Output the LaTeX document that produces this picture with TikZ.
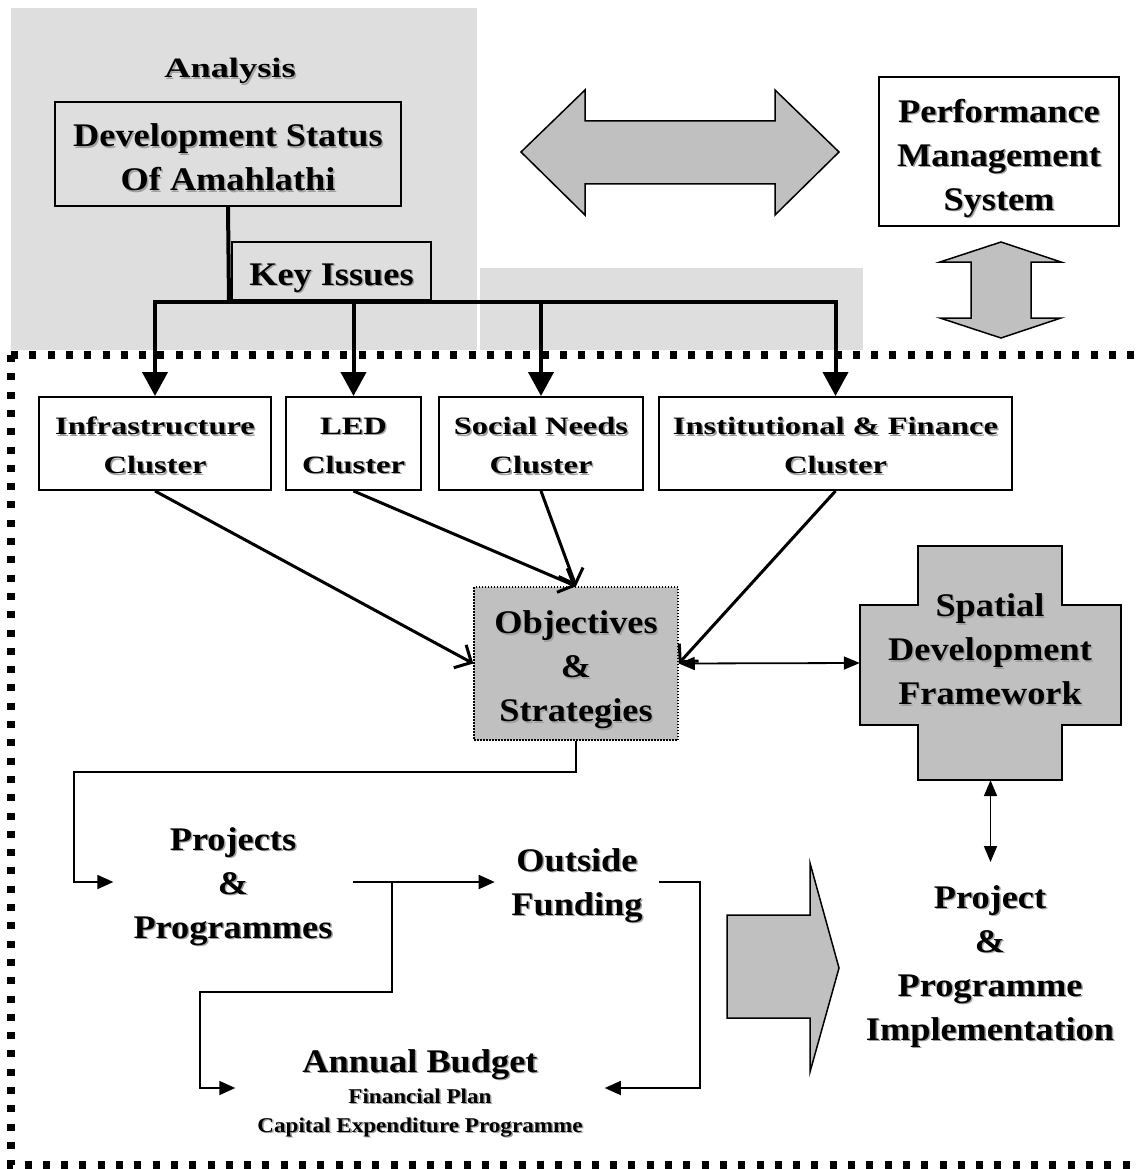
\documentclass[tikz,border=0pt]{standalone}
\usepackage{fontspec}
\setmainfont{Liberation Serif}
\newfontfamily\fbig{Liberation Serif}[FakeStretch=1.1]
\newfontfamily\fwide{Liberation Serif}[FakeStretch=1.3]
\usetikzlibrary{arrows.meta}
\definecolor{zone}{HTML}{DEDEDE}
\definecolor{silver}{HTML}{C0C0C0}
\definecolor{shadowc}{HTML}{A0A0A0}
% text with a soft drop shadow
\newcommand\shd[1]{\leavevmode\rlap{\kern1.5pt\raisebox{-1.5pt}{\textcolor{shadowc}{#1}}}#1}
\tikzset{
  bigtext/.style={font=\fbig\bfseries\fontsize{33}{44}\selectfont, align=center, inner sep=0pt},
  clustertext/.style={font=\fwide\bfseries\fontsize{25}{39}\selectfont, align=center, inner sep=0pt},
  boxframe/.style={draw, line width=2pt, inner sep=0pt},
  busline/.style={line width=4pt},
  droparrow/.style={line width=4pt, -{Triangle[length=24pt,width=25pt]}},
  feed/.style={line width=3pt, -{Straight Barb[length=13pt,width=26pt]}},
  flowlink/.style={line width=1.8pt, -{Triangle[length=16pt,width=14pt]}},
  twoway/.style={line width=1.8pt, {Triangle[length=16pt,width=13pt]}-{Triangle[length=16pt,width=13pt]}},
  blockarrow/.style={fill=silver, draw, line width=1.5pt, line join=miter},
  dotborder/.style={line width=7.5pt, dash pattern=on 7pt off 11.3pt},
}
\begin{document}
\begin{tikzpicture}[x=1pt,y=-1pt]
\fill[white] (0,0) rectangle (1137,1169);
\useasboundingbox (0,0) rectangle (1137,1169);

% shaded analysis zones
\fill[zone] (11,8) rectangle (477,350);
\fill[zone] (480,268) rectangle (863,350);

% analysis block
\node[bigtext, font=\fwide\bfseries\fontsize{28}{36}\selectfont] (analysis) at (230,72) {\shd{Analysis}};
\node[boxframe, minimum width=346pt, minimum height=104pt] (dev) at (228,154) {};
\node[bigtext, yshift=-4pt] (devtext) at (dev.center) {\shd{Development Status}\\\shd{Of Amahlathi}};
\node[boxframe, minimum width=199pt, minimum height=58pt] (keys) at (331.5,271) {};
\node[bigtext, font=\fbig\bfseries\fontsize{33}{40}\selectfont, yshift=-8pt] (keystext) at (keys.center) {\shd{Key Issues}};

% performance management
\node[boxframe, fill=white, minimum width=240pt, minimum height=149pt] (pms) at (999,151.5) {};
\node[bigtext, yshift=-7.5pt] (pmstext) at (pms.center) {\shd{Performance}\\\shd{Management}\\\shd{System}};
\draw[blockarrow] (521,152) -- (585,90) -- (585,121) -- (775,121) -- (775,90) -- (839,152)
  -- (775,215) -- (775,184) -- (585,184) -- (585,215) -- cycle;
\draw[blockarrow] (1001,242) -- (1061,262) -- (1031,262) -- (1031,318) -- (1061,318) -- (1001,338)
  -- (940,318) -- (971,318) -- (971,262) -- (940,262) -- cycle;

% dotted frame of the planning area
\draw[dotborder] (11,355) -- (1145,355);
\draw[dotborder] (11,355) -- (11,1165) -- (1145,1165);

% clusters
\node[boxframe, fill=white, minimum width=232pt, minimum height=93pt] (infra) at (155,443.5) {};
\node[boxframe, fill=white, minimum width=135pt, minimum height=93pt] (led) at (353.5,443.5) {};
\node[boxframe, fill=white, minimum width=204pt, minimum height=93pt] (social) at (541,443.5) {};
\node[boxframe, fill=white, minimum width=353pt, minimum height=93pt] (inst) at (835.5,443.5) {};
\node[clustertext, yshift=-3pt] (infratext) at (infra.center) {\shd{Infrastructure}\\\shd{Cluster}};
\node[clustertext, yshift=-3pt] (ledtext) at (led.center) {\shd{LED}\\\shd{Cluster}};
\node[clustertext, yshift=-3pt] (socialtext) at (social.center) {\shd{Social Needs}\\\shd{Cluster}};
\node[clustertext, yshift=-3pt] (insttext) at (inst.center) {\shd{Institutional \& Finance}\\\shd{Cluster}};

% key issues feeding the clusters
\coordinate (busy) at (229,302);
\draw[busline] (dev.south) -- (busy);
\draw[busline, line cap=rect] (infra.north |- busy) -- (inst.north |- busy);
\draw[droparrow] (infra.north |- busy) -- (infra.north);
\draw[droparrow] (led.north |- busy) -- (led.north);
\draw[droparrow] (social.north |- busy) -- (social.north);
\draw[droparrow] (inst.north |- busy) -- (inst.north);

% objectives and spatial framework
\node[fill=silver, draw, line width=1.5pt, dash pattern=on 1.5pt off 1.5pt, inner sep=0pt,
      minimum width=204pt, minimum height=153pt] (obj) at (576,663.5) {};
\node[bigtext, yshift=-7pt] (objtext) at (obj.center) {\shd{Objectives}\\\shd{\&}\\\shd{Strategies}};
\node[minimum width=261pt, minimum height=234pt, inner sep=0pt] (sdf) at (990.5,663) {};
\draw[blockarrow] (918,546) -- (1062,546) -- (1062,605) -- (1121,605) -- (1121,725) -- (1062,725)
  -- (1062,780) -- (918,780) -- (918,725) -- (860,725) -- (860,605) -- (918,605) -- cycle;
\node[bigtext] (sdftext) at (990,650) {\shd{Spatial}\\\shd{Development}\\\shd{Framework}};

\draw[feed] (infra.south) -- (obj.west);
\draw[feed] (led.south) -- (obj.north);
\draw[feed] (social.south) -- (obj.north);
\draw[feed] (inst.south) -- (obj.east);
\draw[twoway] (obj.east) -- (sdf.west);

% implementation
\node[bigtext] (ppi) at (990,967) {\shd{Project}\\\shd{\&}\\\shd{Programme}\\\shd{Implementation}};
\coordinate (ppitop) at (990.5,862);
\draw[twoway] (sdf.south) -- (ppitop);
\draw[blockarrow] (727,915) -- (810,915) -- (810,863) -- (839,968) -- (810,1072) -- (810,1018)
  -- (727,1018) -- cycle;

% projects, funding and budget
\node[bigtext, inner xsep=20pt] (proj) at (233,887) {\shd{Projects}\\\shd{\&}\\\shd{Programmes}};
\node[bigtext, inner xsep=16.5pt] (fund) at (577,886) {\shd{Outside}\\\shd{Funding}};
\node[align=center, inner ysep=0pt, inner xsep=22pt, font=\fbig\bfseries\fontsize{21}{29}\selectfont]
  (budget) at (420,1094)
  {{\fontsize{33}{44}\selectfont\shd{Annual Budget}}\\[2pt]\shd{Financial Plan}\\\shd{Capital Expenditure Programme}};

\draw[flowlink] (obj.south) |- (74,772) |- ([yshift=5pt]proj.west);
\coordinate (br) at (392,882);
\draw[flowlink] ([yshift=5pt]proj.east) -- ([yshift=4pt]fund.west);
\draw[flowlink] (br) |- (200,992) |- ([yshift=6pt]budget.west);
\draw[flowlink] ([yshift=4pt]fund.east) -- ++(41,0) |- ([yshift=6pt]budget.east);
\end{tikzpicture}
\end{document}
